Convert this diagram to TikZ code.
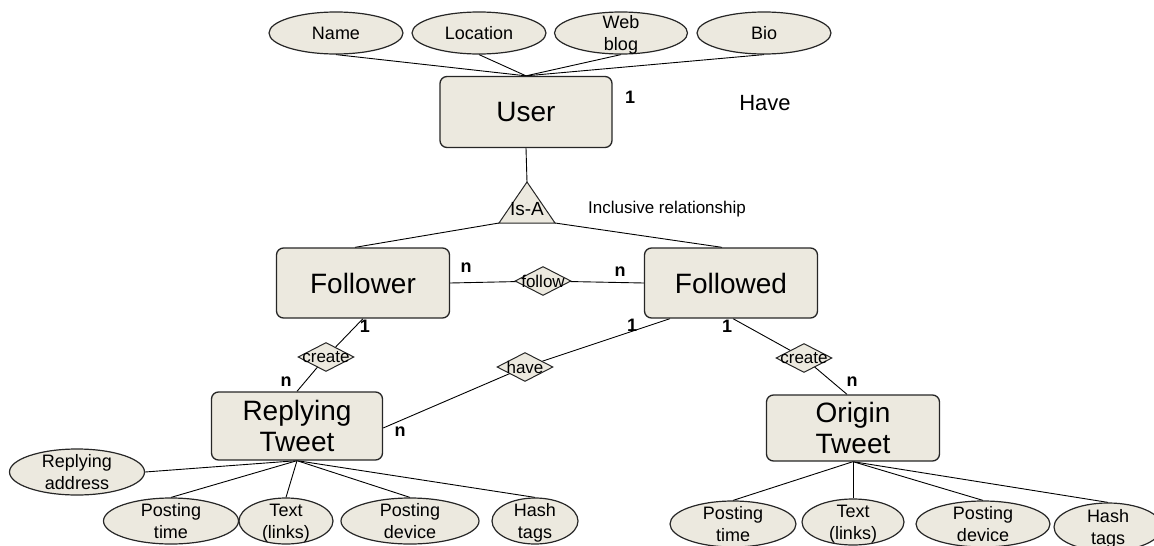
\documentclass[tikz,border=0pt]{standalone}
\usepackage{fontspec}
\setmainfont{Liberation Sans}
\usetikzlibrary{shapes.geometric}
\pgfdeclarelayer{bg}
\pgfsetlayers{bg,main}
\definecolor{boxfill}{RGB}{236,233,223}
% two centred lines that do not widen the ellipse vertically
\newcommand{\twoline}[2]{\raisebox{-6pt}[0pt][0pt]{\begin{tabular}{@{}c@{}}#1\\#2\end{tabular}}}
\tikzset{
  entity/.style={draw=black!85, line width=1.3pt, fill=boxfill, rounded corners=7pt,
    inner sep=0pt, align=center, font=\fontsize{28}{31}\selectfont},
  attr/.style={draw=black!85, line width=1.2pt, fill=boxfill, ellipse, inner sep=0pt,
    align=center, font=\fontsize{18}{22}\selectfont},
  rel/.style={draw=black!85, line width=1pt, fill=boxfill, diamond, inner sep=0pt,
    minimum width=56pt, minimum height=29pt},
  reltext/.style={font=\fontsize{17}{19}\selectfont},
  card/.style={font=\bfseries\fontsize{18}{20}\selectfont, inner sep=0pt},
  link/.style={draw=black, line width=0.9pt},
}
\begin{document}
\begin{tikzpicture}[x=1pt,y=-1pt]
\useasboundingbox (0,0) rectangle (1154,546);

% entities
\node[entity, minimum width=172pt, minimum height=71pt] (user) at (526,112) {User};
\node[entity, minimum width=173pt, minimum height=70pt] (follower) at (363,283) {Follower};
\node[entity, minimum width=173pt, minimum height=70pt] (followed) at (731,283) {Followed};
\node[entity, minimum width=171pt, minimum height=68pt] (reply) at (297,426) {Replying\\Tweet};
\node[entity, minimum width=173pt, minimum height=66pt] (origin) at (853,428) {Origin\\Tweet};

% user attributes
\node[attr, minimum width=134pt, minimum height=42pt] (name) at (336,33) {Name};
\node[attr, minimum width=134pt, minimum height=42pt] (loc) at (479,33) {Location};
\node[attr, minimum width=133pt, minimum height=42pt] (blog) at (621,33) {\twoline{Web}{blog}};
\node[attr, minimum width=134pt, minimum height=42pt] (bio) at (764,33) {Bio};

% replying tweet attributes
\node[attr, minimum width=135pt, minimum height=46pt] (raddr) at (77,472) {\twoline{Replying}{address}};
\node[attr, minimum width=135pt, minimum height=46pt] (rtime) at (171,521) {\twoline{Posting}{time}};
\node[attr, minimum width=94pt, minimum height=46pt] (rtext) at (286,521) {\twoline{Text}{(links)}};
\node[attr, minimum width=138pt, minimum height=46pt] (rdev) at (410,521) {\twoline{Posting}{device}};
\node[attr, minimum width=86pt, minimum height=46pt] (rtags) at (535,521) {\twoline{Hash}{tags}};

% origin tweet attributes
\node[attr, minimum width=126pt, minimum height=46pt] (otime) at (733,524) {\twoline{Posting}{time}};
\node[attr, minimum width=102pt, minimum height=46pt] (otext) at (853,522) {\twoline{Text}{(links)}};
\node[attr, minimum width=134pt, minimum height=46pt] (odev) at (983,524) {\twoline{Posting}{device}};
\node[attr, minimum width=108pt, minimum height=48pt] (otags) at (1108,527) {\twoline{Hash}{tags}};

% is-a triangle
\coordinate (isatop) at (527,182);
\coordinate (isal) at (499,223);
\coordinate (isar) at (555,223);
\draw[line width=1pt, draw=black!85, fill=boxfill] (isatop) -- (isar) -- (isal) -- cycle;
\node[font=\fontsize{19}{21}\selectfont, inner sep=0pt] (isa) at (527,209) {Is-A};

% relationships
\node[rel, label={[reltext]center:follow}] (follow) at (543,281) {};
\node[rel, label={[reltext]center:create}] (createL) at (326,357) {};
\node[rel, label={[reltext]center:have}] (have) at (525,367) {};
\node[rel, label={[reltext]center:create}] (createR) at (804,358) {};

% connectors
\begin{pgfonlayer}{bg}
\foreach \a in {name,loc,blog,bio}
  \draw[link] (\a.south) -- (user.north);
\draw[link] (user.south) -- (isatop);
\draw[link] (isal) -- ([xshift=-8pt]follower.north);
\draw[link] (isar) -- ([xshift=-9pt]followed.north);
\draw[link] (follower.east) -- (follow.center) -- (followed.west);
\draw[link] (follower.south) -- (createL.center) -- (reply.north);
\draw[link] ([xshift=-61pt]followed.south) -- (have.center) -- ([yshift=-2pt]reply.east);
\draw[link] ([xshift=2pt]followed.south) -- (createR.center) -- ([xshift=-6pt]origin.north);
\draw[link] (reply.south) -- (raddr.east);
\foreach \a in {rtime,rtext,rdev,rtags}
  \draw[link] (reply.south) -- (\a.north);
\foreach \a in {otime,otext,odev,otags}
  \draw[link] (origin.south) -- (\a.north);
\end{pgfonlayer}

% labels
\node[card] (c1) at (630,97) {1};
\node[font=\fontsize{22}{24}\selectfont] (haveTxt) at (765,103) {Have};
\node[font=\fontsize{17}{19}\selectfont] (incl) at (667,209) {Inclusive relationship};
\node[card] (c2) at (466,268) {n};
\node[card] (c3) at (620,272) {n};
\node[card] (c4) at (365,326) {1};
\node[card] (c5) at (286,382) {n};
\node[card] (c6) at (632,325) {1};
\node[card] (c7) at (400,432) {n};
\node[card] (c8) at (727,326) {1};
\node[card] (c9) at (852,382) {n};
\end{tikzpicture}
\end{document}
